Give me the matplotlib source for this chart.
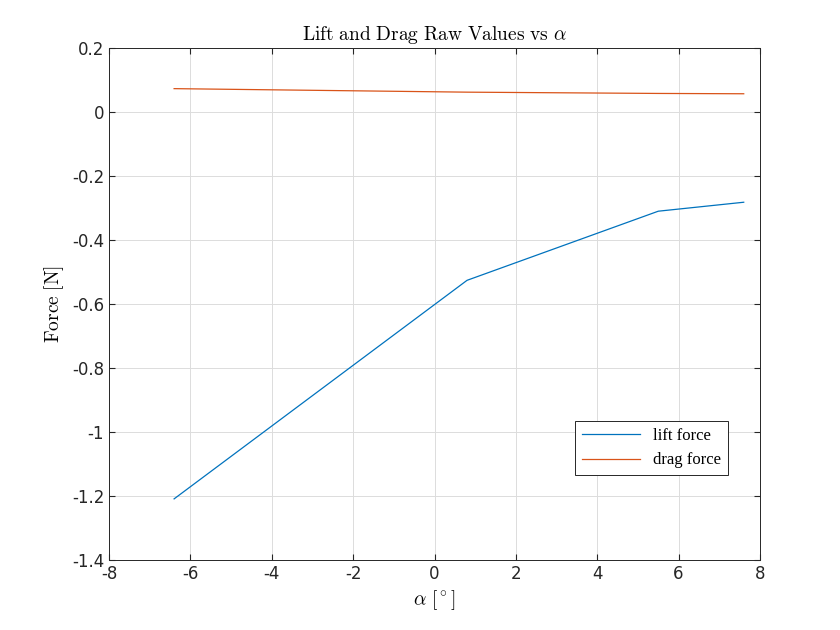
import matplotlib
matplotlib.use("Agg")
import matplotlib.pyplot as plt

alpha = [-6.4, 0.8, 5.5, 7.6]
lift = [-1.209, -0.526, -0.310, -0.282]
drag = [0.073, 0.062, 0.058, 0.057]
xticks = [-8, -6, -4, -2, 0, 2, 4, 6, 8]
yticks = [0.2, 0, -0.2, -0.4, -0.6, -0.8, -1, -1.2, -1.4]

plt.rcParams['mathtext.fontset'] = 'cm'
fig = plt.figure(figsize=(8.4, 6.3), dpi=100)
ax = fig.add_axes([109/840, 70/630, 651/840, 512/630])
ax.plot(alpha, lift, color='#0072BD', lw=0.9, label='lift force')
ax.plot(alpha, drag, color='#D95319', lw=0.9, label='drag force')
ax.set_xlim(-8, 8); ax.set_ylim(-1.4, 0.2)
ax.set_xticks(xticks); ax.set_yticks(yticks)
ax.set_xticklabels([f"{t:g}" for t in xticks])
ax.set_yticklabels([f"{t:g}" for t in yticks])
ax.grid(True, color='#dcdcdc', lw=0.7)
ax.set_axisbelow(True)
ax.tick_params(labelsize=12, direction='in', length=4, colors='#262626', labelcolor='#262626',
               top=True, right=True)
for s in ax.spines.values():
    s.set_color('#262626'); s.set_linewidth(0.7)
ax.set_title(r'$\mathrm{Lift\ and\ Drag\ Raw\ Values\ vs}\ \alpha$', fontsize=14)
ax.set_xlabel(r'$\alpha\ [^\circ]$', fontsize=14)
ax.set_ylabel(r'$\mathrm{Force\ [N]}$', fontsize=14)
leg = ax.legend(loc='lower right', bbox_to_anchor=(0.951, 0.166), borderaxespad=0,
                fancybox=False, edgecolor='#262626', framealpha=1, handlelength=3.5,
                prop={'family': 'Liberation Serif', 'size': 12})
leg.get_frame().set_linewidth(0.7)
fig.savefig('out.png', dpi=100)
